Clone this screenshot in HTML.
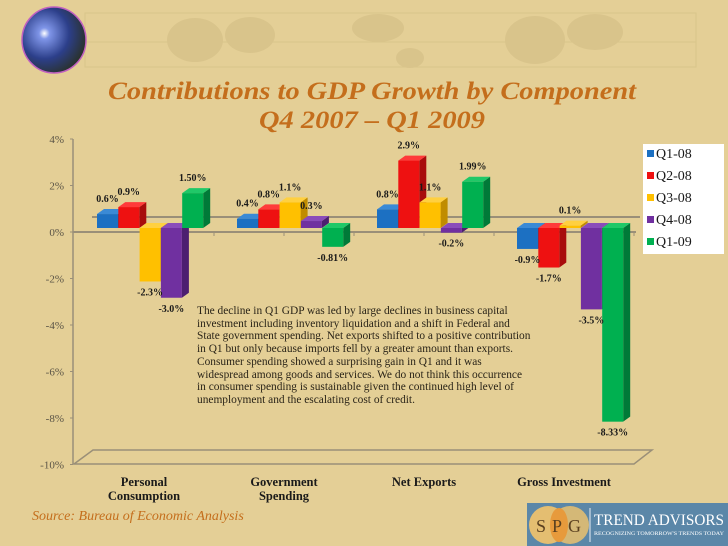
<!DOCTYPE html>
<html><head><meta charset="utf-8"><style>
html,body{margin:0;padding:0;}
body{width:728px;height:546px;background:#e4cf96;overflow:hidden;position:relative;font-family:"Liberation Serif",serif;}
#notes{position:absolute;left:197px;top:305px;white-space:nowrap;font-size:11.4px;line-height:12.7px;color:#2a2418;}
</style></head><body>
<svg id="chart" width="728" height="546" style="position:absolute;left:0;top:0">
<defs>
<radialGradient id="globeg" cx="0.35" cy="0.4" r="0.7">
<stop offset="0" stop-color="#ffffff"/><stop offset="0.12" stop-color="#7f95e8"/><stop offset="0.55" stop-color="#2c3f8a"/><stop offset="1" stop-color="#2a3020"/></radialGradient>
</defs>
<g id="map">
<rect x="85" y="13" width="611" height="54" fill="none" stroke="#d9c58a" stroke-width="1"/>
<line x1="85" y1="42" x2="696" y2="42" stroke="#d9c58a"/>
<ellipse cx="195" cy="40" rx="28" ry="22" fill="#d9c48b"/>
<ellipse cx="250" cy="35" rx="25" ry="18" fill="#d9c48b"/>
<ellipse cx="378" cy="28" rx="26" ry="14" fill="#d9c48b"/>
<ellipse cx="410" cy="58" rx="14" ry="10" fill="#d9c48b"/>
<ellipse cx="535" cy="40" rx="30" ry="24" fill="#d9c48b"/>
<ellipse cx="595" cy="32" rx="28" ry="18" fill="#d9c48b"/>
</g>
<g>
<ellipse cx="54" cy="40" rx="32" ry="33" fill="url(#globeg)" stroke="#c060c0" stroke-width="1.5"/>
</g>
<text x="372" y="99" text-anchor="middle" textLength="528" lengthAdjust="spacingAndGlyphs" font-family="Liberation Serif, serif" font-style="italic" font-weight="bold" font-size="25" fill="#c46e1c">Contributions to GDP Growth by Component</text>
<text x="372" y="128" text-anchor="middle" textLength="226" lengthAdjust="spacingAndGlyphs" font-family="Liberation Serif, serif" font-style="italic" font-weight="bold" font-size="25" fill="#c46e1c">Q4 2007 – Q1 2009</text>
<g id="axes"></g>
<g id="bars"></g>
<g id="labels"></g>
<g>
<rect x="643" y="144" width="81" height="110" fill="#ffffff"/>
<g id="legend"></g>
</g>
<text x="32" y="520" font-style="italic" font-size="14" fill="#c46e1c">Source: Bureau of Economic Analysis</text>
<g>
<rect x="527" y="503" width="201" height="43" fill="#5b87a8"/>
<circle cx="548" cy="525" r="19" fill="#f3c46a" opacity="0.9"/>
<circle cx="570" cy="525" r="19" fill="#f3c46a" opacity="0.8"/>
<ellipse cx="559" cy="525" rx="9" ry="17" fill="#e79a3c"/>
<text x="536" y="532" font-size="18" fill="#5a4020">S</text>
<text x="552" y="532" font-size="18" fill="#5a4020">P</text>
<text x="568" y="532" font-size="18" fill="#5a4020">G</text>
<line x1="590" y1="508" x2="590" y2="542" stroke="#e8eef4" stroke-width="1"/>
<text x="594" y="525" font-size="16" textLength="130" lengthAdjust="spacingAndGlyphs" fill="#ffffff">TREND ADVISORS</text>
<text x="594" y="535" font-size="5.5" textLength="130" lengthAdjust="spacingAndGlyphs" fill="#ffffff">RECOGNIZING TOMORROW'S TRENDS TODAY</text>
</g>
</svg>
<div id="notes">The decline in Q1 GDP was led by large declines in business capital<br>investment including inventory liquidation and a shift in Federal and<br>State government spending. Net exports shifted to a positive contribution<br>in Q1 but only because imports fell by a greater amount than exports.<br>Consumer spending showed a surprising gain in Q1 and it was<br>widespread among goods and services. We do not think this occurrence<br>in consumer spending is sustainable given the continued high level of<br>unemployment and the escalating cost of credit.</div>
<script>
const categories = ["Personal|Consumption","Government|Spending","Net Exports","Gross Investment"];
const seriesNames = ["Q1-08","Q2-08","Q3-08","Q4-08","Q1-09"];
const q108 = [0.6, 0.4, 0.8, -0.9];
const q208 = [0.9, 0.8, 2.9, -1.7];
const q308 = [-2.3, 1.1, 1.1, 0.1];
const q408 = [-3.0, 0.3, -0.2, -3.5];
const q109 = [1.5, -0.81, 1.99, -8.33];
const labelText = [
 ["0.6%","0.9%","-2.3%","-3.0%","1.50%"],
 ["0.4%","0.8%","1.1%","0.3%","-0.81%"],
 ["0.8%","2.9%","1.1%","-0.2%","1.99%"],
 ["-0.9%","-1.7%","0.1%","-3.5%","-8.33%"]];
const yTicks = [4,2,0,-2,-4,-6,-8,-10];
const series = [q108,q208,q308,q408,q109];
const colors = ["#1c70c2","#ee1111","#ffc000","#7030a0","#00b050"];
const sides = ["#0f4f8c","#a80c0c","#c08c00","#4c1f70","#007a38"];
const tops = ["#3a8ad6","#ff3a3a","#ffd040","#8a4cba","#20c868"];
const NS="http://www.w3.org/2000/svg";
function mk(t,a,p){const e=document.createElementNS(NS,t);for(const k in a)e.setAttribute(k,a[k]);p.appendChild(e);return e;}
const PER=23.25, ZERO=232, BASE=228;
function yAxis(v){return ZERO - v*PER;}
function yBar(v){return BASE - v*PER;}
function xBar(g,i){return 97 + g*140 + i*21.3;}
const axes=document.getElementById('axes');
let f=mk('polygon',{points:"74,464 93,450 652,450 634,464",fill:"none",stroke:"#9a8f78","stroke-width":1.5},axes);


let bl=mk('line',{x1:92,y1:217,x2:640,y2:217,stroke:"#9a8f78","stroke-width":2},axes);


let ya=mk('line',{x1:73,y1:yAxis(4),x2:73,y2:yAxis(-10),stroke:"#9a8f78","stroke-width":1.5},axes);


yTicks.forEach(v=>{
 const y=yAxis(v);
 mk('line',{x1:70,y1:y,x2:73,y2:y,stroke:"#9a8f78"},axes);
 const t=mk('text',{x:64,y:y+4,"text-anchor":"end","font-size":11,fill:"#5a5446","font-family":"Liberation Serif, serif"},axes);
 t.textContent=v+"%";
 
 
});
categories.forEach((c,g)=>{
 const cx=147+g*140;
 mk('line',{x1:cx-3,y1:ZERO,x2:cx-3,y2:ZERO+4,stroke:"#9a8f78"},axes);
 mk('line',{x1:cx+67,y1:ZERO,x2:cx+67,y2:ZERO+4,stroke:"#9a8f78"},axes);
 c.split("|").forEach((ln,k)=>{
  const t=mk('text',{x:cx-3,y:486+k*14,"text-anchor":"middle","font-size":12.5,"font-weight":"bold",fill:"#1a1a1a","font-family":"Liberation Serif, serif"},axes);
  t.textContent=ln;
  
  
 });
});
let za=mk('line',{x1:73,y1:ZERO,x2:636,y2:ZERO,stroke:"#9a8f78","stroke-width":2},axes);


const bars=document.getElementById('bars'), labels=document.getElementById('labels');
const W=21, DX=7, DY=5;
categories.forEach((c,g)=>{
 series.forEach((s,i)=>{
  const v=s[g], x=xBar(g,i);
  const y1=Math.min(yBar(v),BASE), y2=Math.max(yBar(v),BASE), h=Math.max(y2-y1,1);
  const grp=mk('g',{},bars);
  
  
  mk('polygon',{points:`${x+W},${y1} ${x+W+DX},${y1-DY} ${x+W+DX},${y1+h-DY} ${x+W},${y1+h}`,fill:sides[i]},grp);
  mk('polygon',{points:`${x},${y1} ${x+DX},${y1-DY} ${x+W+DX},${y1-DY} ${x+W},${y1}`,fill:tops[i]},grp);
  mk('rect',{x:x,y:y1,width:W,height:h,fill:colors[i]},grp);
  const ly = v>=0 ? y1-12 : y2+14;
  const t=mk('text',{x:x+W/2,y:ly,"text-anchor":"middle","font-size":10,"font-weight":"bold",fill:"#1a1a1a","font-family":"Liberation Serif, serif"},labels);
  t.textContent=labelText[g][i];
  
  
 });
});
const leg=document.getElementById('legend');
seriesNames.forEach((n,i)=>{
 const y=158+i*22;
 const r=mk('rect',{x:647,y:y-8,width:7,height:7,fill:colors[i]},leg);
 
 
 const t=mk('text',{x:656,y:y,"font-size":14,fill:"#1a1a1a","font-family":"Liberation Serif, serif"},leg);
 t.textContent=n;
 
 
});
</script>
</body></html>
